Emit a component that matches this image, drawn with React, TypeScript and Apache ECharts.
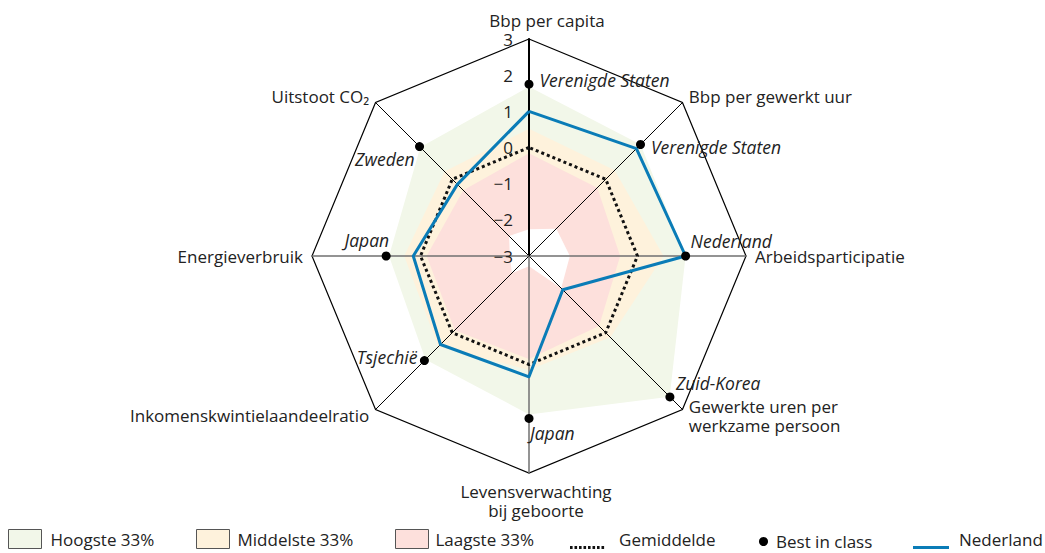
import React, { useEffect, useRef } from 'react';
import * as echarts from 'echarts';

// Indicators in ECharts radar order (counter-clockwise, starting at the top)
const indicatorNames = [
  'Bbp per capita',
  'Uitstoot CO₂',
  'Energieverbruik',
  'Inkomenskwintielaandeelratio',
  'Levensverwachting\nbij geboorte',
  'Gewerkte uren per\nwerkzame persoon',
  'Arbeidsparticipatie',
  'Bbp per gewerkt uur',
];

const tickMin = -3;
const tickMax = 3;

// Band boundaries (standardised scores)
const hoogsteValues = [1.68, 1.25, 0.87, 1.05, 1.38, 2.5, 1.33, 1.36];
const middelsteValues = [0.52, 0.3, 0.45, 0.55, 0.15, 0.18, 0.72, 0.35];
const laagsteValues = [-0.16, -0.43, -0.17, -0.1, -0.15, -0.26, -0.48, -0.33];
const minimumValues = [-2.26, -2.22, -2.47, -2.33, -2.72, -1.74, -1.87, -1.93];

const gemiddeldeValues = [0, 0, 0, 0, 0, 0, 0, 0];
const nederlandValues = [1.0, -0.2, 0.2, 0.46, 0.34, -1.68, 1.33, 1.2];
const bestValues = [1.75, 1.28, 0.95, 1.09, 1.49, 2.51, 1.33, 1.36];
const bestCountries = [
  'Verenigde Staten',
  'Zweden',
  'Japan',
  'Tsjechië',
  'Japan',
  'Zuid-Korea',
  'Nederland',
  'Verenigde Staten',
];

const FONT = "'Open Sans', 'Noto Sans', sans-serif";
const GREEN = '#f2f7e9';
const YELLOW = '#fef2dc';
const PINK = '#fde0dc';
const BLUE = '#0a7cb7';
const TEXT = '#222';

const labelPos: any[] = ['right', 'left', 'left', 'left', 'right', 'right', 'right', 'right'];
const labelOff: number[][] = [
  [1, -4],
  [4.5, 12],
  [12.5, -16],
  [2.5, -4],
  [-8.5, 15],
  [-3.5, -14],
  [-4.5, -15],
  [1, 3],
];

function buildOption() {
  const indicator = indicatorNames.map((name, i) => {
    const ind: any = { name, min: tickMin, max: tickMax };
    if (i === 0) {
      ind.axisLabel = { show: true };
      ind.axisLine = { lineStyle: { color: '#000', width: 2 } };
    } else if (i % 2 === 0) {
      ind.axisLine = { lineStyle: { color: '#707070', width: 1.5 } };
    }
    return ind;
  });

  const areaSeries = (name: string, values: number[], color: string) => ({
    type: 'radar',
    name,
    z: 1,
    symbol: 'none',
    silent: true,
    itemStyle: { color },
    lineStyle: { width: 0, opacity: 0 },
    areaStyle: { color, opacity: 1 },
    data: [{ name, value: values }],
  });

  const labelSeries = bestCountries.map((country, k) => ({
    type: 'radar',
    name: 'lbl' + k,
    z: 4,
    symbol: 'circle',
    symbolSize: 9,
    silent: true,
    itemStyle: { color: 'rgba(0,0,0,0)' },
    lineStyle: { width: 0, opacity: 0 },
    label: {
      show: true,
      position: labelPos[k],
      offset: labelOff[k],
      distance: 5,
      color: TEXT,
      fontStyle: 'italic',
      fontSize: 17.5,
      fontFamily: FONT,
      formatter: (p: any) => {
        const idx = p.dimensionIndex != null ? p.dimensionIndex : bestValues.indexOf(p.value);
        return idx === k ? country : '';
      },
    },
    data: [{ name: 'lbl' + k, value: bestValues }],
  }));

  const bandLegend = (name: string, left: number, color: string, pad: number) => ({
    left,
    top: 529,
    padding: 0,
    orient: 'horizontal',
    itemWidth: 33,
    itemHeight: 19,
    selectedMode: false,
    textStyle: { color: TEXT, fontSize: 17, fontFamily: FONT, padding: [2, 0, 0, pad] },
    data: [
      {
        name,
        icon: 'rect',
        itemStyle: { color, borderColor: '#555', borderWidth: 1 },
      },
    ],
  });

  const dots = [0, 4.5, 9, 13.5, 18, 22.5, 27, 31.5]
    .map((x) => `M${x},16h2.6v3h-2.6Z`)
    .join(' ');
  const dottedIcon = 'path://M0,0L0.01,0L0,0.01Z ' + dots;
  const lineIcon = 'path://M0,0L0.01,0L0,0.01Z M0,16H36V19H0Z';

  return {
    animation: false,
    backgroundColor: '#fff',
    textStyle: { fontFamily: FONT },
    legend: [
      bandLegend('Hoogste 33%', 8, GREEN, 4),
      bandLegend('Middelste 33%', 196, YELLOW, 3),
      bandLegend('Laagste 33%', 395, PINK, 2),
      {
        left: 570,
        top: 530,
        padding: 0,
        itemWidth: 36,
        itemHeight: 19,
        selectedMode: false,
        textStyle: { color: TEXT, fontSize: 17, fontFamily: FONT, padding: [2, 0, 0, 9] },
        data: [{ name: 'Gemiddelde', icon: dottedIcon, itemStyle: { color: '#111', borderWidth: 0 } }],
      },
      {
        left: 759,
        top: 533,
        padding: 0,
        itemWidth: 9,
        itemHeight: 9,
        selectedMode: false,
        textStyle: { color: TEXT, fontSize: 17, fontFamily: FONT, padding: [0, 0, 0, 3] },
        data: [{ name: 'Best in class', icon: 'circle', itemStyle: { color: '#000', borderWidth: 0 } }],
      },
      {
        left: 913,
        top: 530,
        padding: 0,
        itemWidth: 36,
        itemHeight: 19,
        selectedMode: false,
        textStyle: { color: TEXT, fontSize: 17, fontFamily: FONT, padding: [2, 0, 0, 5] },
        data: [{ name: 'Nederland', icon: lineIcon, itemStyle: { color: BLUE, borderWidth: 0 } }],
      },
    ],
    radar: {
      center: [529, 256],
      radius: 217,
      startAngle: 90,
      shape: 'polygon',
      splitNumber: 6,
      z: 2,
      indicator,
      nameGap: 9,
      axisName: {
        color: TEXT,
        fontSize: 17,
        fontFamily: FONT,
        lineHeight: 19,
        rich: { pad: { width: 36 }, pad2: { width: 14 } },
        formatter: (name: string) => {
          if (name === 'Bbp per capita') return '{pad| }' + name;
          if (name.indexOf('Levensverwachting') === 0)
            return name
              .split('\n')
              .map((l) => '{pad2| }' + l)
              .join('\n');
          return name;
        },
      },
      axisLine: { show: true, lineStyle: { color: '#000', width: 1 } },
      axisTick: { show: false },
      axisLabel: {
        show: false,
        color: TEXT,
        fontSize: 17,
        fontFamily: FONT,
        margin: 16,
        formatter: (v: number) => String(v).replace('-', '−'),
      },
      splitLine: {
        show: true,
        lineStyle: {
          color: [
            'rgba(0,0,0,0)',
            'rgba(0,0,0,0)',
            'rgba(0,0,0,0)',
            'rgba(0,0,0,0)',
            'rgba(0,0,0,0)',
            'rgba(0,0,0,0)',
            '#000',
          ],
          width: 1.2,
        },
      },
      splitArea: { show: false },
    },
    series: [
      areaSeries('Hoogste 33%', hoogsteValues, GREEN),
      areaSeries('Middelste 33%', middelsteValues, YELLOW),
      areaSeries('Laagste 33%', laagsteValues, PINK),
      areaSeries('Minimum', minimumValues, '#ffffff'),
      {
        type: 'radar',
        name: 'Gemiddelde',
        z: 3,
        symbol: 'none',
        silent: true,
        itemStyle: { color: '#111' },
        lineStyle: { color: '#111', width: 3, type: [3, 3] },
        data: [{ name: 'Gemiddelde', value: gemiddeldeValues }],
      },
      {
        type: 'radar',
        name: 'Nederland',
        z: 3,
        symbol: 'none',
        silent: true,
        itemStyle: { color: BLUE },
        lineStyle: { color: BLUE, width: 3 },
        data: [{ name: 'Nederland', value: nederlandValues }],
      },
      {
        type: 'radar',
        name: 'Best in class',
        z: 4,
        symbol: 'circle',
        symbolSize: 9,
        silent: true,
        itemStyle: { color: '#000' },
        lineStyle: { width: 0, opacity: 0 },
        data: [{ name: 'Best in class', value: bestValues }],
      },
      ...labelSeries,
    ],
  };
}

export default function App() {
  const ref = useRef<HTMLDivElement>(null);
  useEffect(() => {
    if (!ref.current) return;
    const chart = echarts.init(ref.current, null, { renderer: 'svg' });
    chart.setOption(buildOption() as any);
    return () => {
      chart.dispose();
    };
  }, []);
  return (
    <div
      ref={ref}
      style={{ position: 'absolute', left: 0, top: 0, width: 1045, height: 553 }}
    />
  );
}
